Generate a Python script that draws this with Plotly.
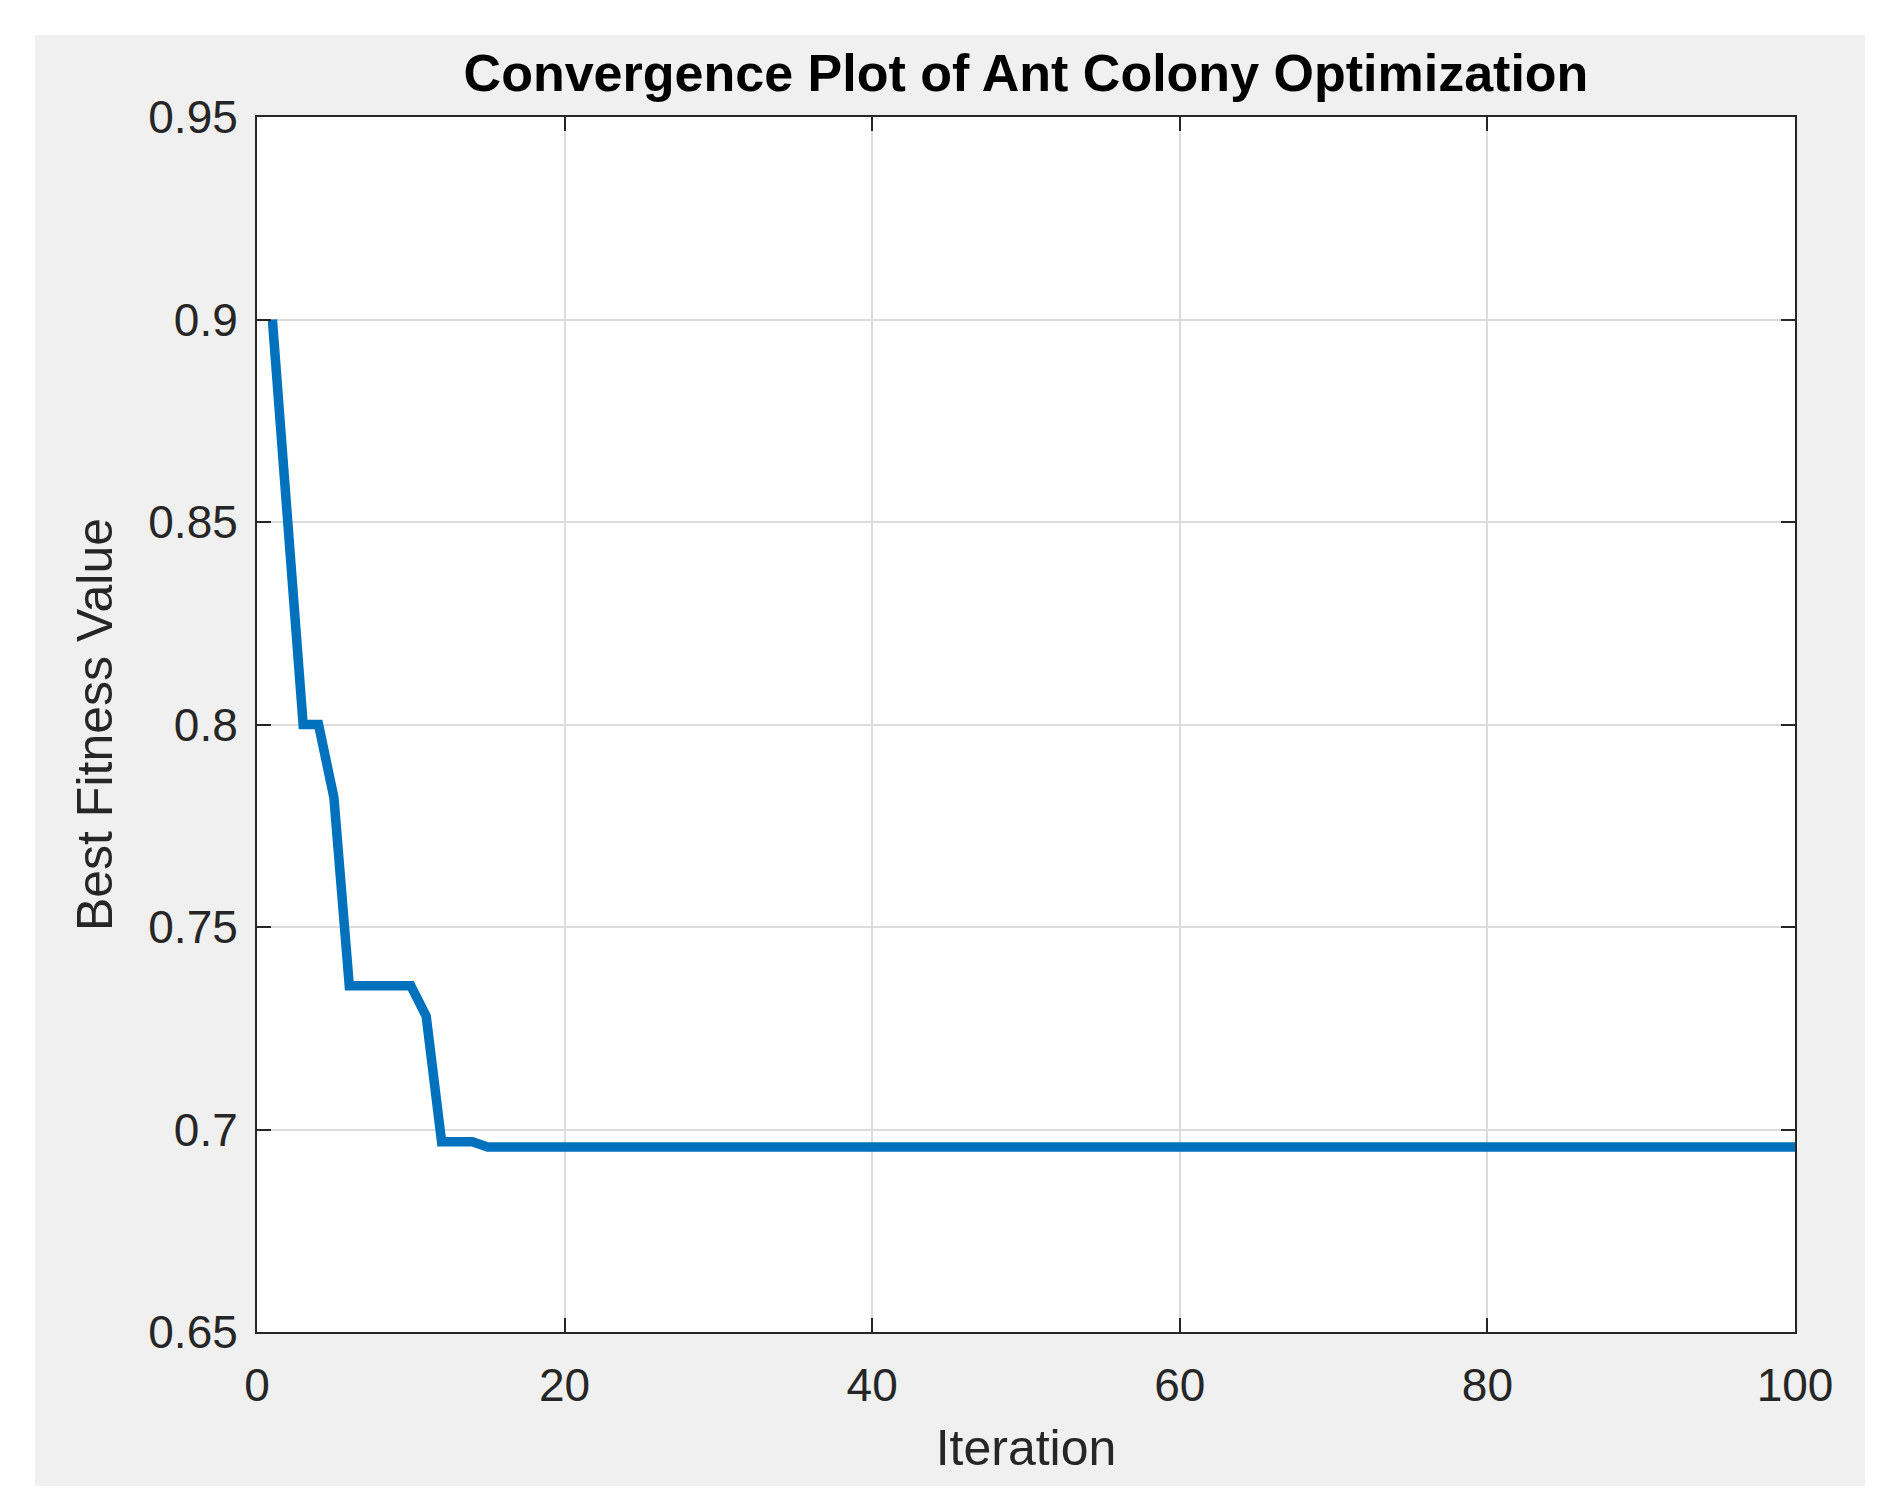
import plotly.graph_objects as go

iterations = list(range(1, 101))
best_fitness = [
    0.9, 0.85, 0.8, 0.8, 0.782, 0.7355, 0.7355, 0.7355, 0.7355, 0.7355,
    0.728, 0.697, 0.697, 0.697, 0.6957, 0.6957, 0.6957, 0.6957, 0.6957, 0.6957,
    0.6957, 0.6957, 0.6957, 0.6957, 0.6957, 0.6957, 0.6957, 0.6957, 0.6957, 0.6957,
    0.6957, 0.6957, 0.6957, 0.6957, 0.6957, 0.6957, 0.6957, 0.6957, 0.6957, 0.6957,
    0.6957, 0.6957, 0.6957, 0.6957, 0.6957, 0.6957, 0.6957, 0.6957, 0.6957, 0.6957,
    0.6957, 0.6957, 0.6957, 0.6957, 0.6957, 0.6957, 0.6957, 0.6957, 0.6957, 0.6957,
    0.6957, 0.6957, 0.6957, 0.6957, 0.6957, 0.6957, 0.6957, 0.6957, 0.6957, 0.6957,
    0.6957, 0.6957, 0.6957, 0.6957, 0.6957, 0.6957, 0.6957, 0.6957, 0.6957, 0.6957,
    0.6957, 0.6957, 0.6957, 0.6957, 0.6957, 0.6957, 0.6957, 0.6957, 0.6957, 0.6957,
    0.6957, 0.6957, 0.6957, 0.6957, 0.6957, 0.6957, 0.6957, 0.6957, 0.6957, 0.6957,
]
x_ticks = [0, 20, 40, 60, 80, 100]
y_ticks = [0.65, 0.7, 0.75, 0.8, 0.85, 0.9, 0.95]
y_tick_labels = ["0.65", "0.7", "0.75", "0.8", "0.85", "0.9", "0.95"]

W, H = 1881, 1505
L, R, T, B = 249, 1787, 109, 1324
pw, ph = R - L, B - T
GL, GR, GT, GB = 27, 1857, 27, 1478  # grey panel edges in pixels


def px_x(p):
    return (p - L) / pw


def px_y(p):
    return (B - p) / ph


fig = go.Figure()
fig.add_trace(go.Scatter(
    x=iterations, y=best_fitness, mode="lines",
    line=dict(color="#0072BD", width=9.5), hoverinfo="skip", showlegend=False,
))

font_family = "Liberation Sans, Arial, sans-serif"
axis_common = dict(
    showline=True, linecolor="#262626", linewidth=2, mirror="ticks",
    ticks="inside", ticklen=14, tickwidth=2, tickcolor="#262626",
    showgrid=True, gridcolor="#dcdcdc", gridwidth=1.5, zeroline=False,
    tickfont=dict(family=font_family, size=46, color="#262626"),
)

white = dict(fillcolor="white", line=dict(width=0), layer="below",
             type="rect", xref="paper", yref="paper")
shapes = [
    dict(x0=px_x(0), x1=px_x(GL), y0=px_y(W * 2), y1=px_y(-W), **white),
    dict(x0=px_x(GR), x1=px_x(W + 10), y0=px_y(W * 2), y1=px_y(-W), **white),
    dict(x0=px_x(0), x1=px_x(W + 10), y0=px_y(GT), y1=px_y(-10), **white),
    dict(x0=px_x(0), x1=px_x(W + 10), y0=px_y(H + 10), y1=px_y(GB), **white),
]

fig.update_layout(
    width=W, height=H,
    margin=dict(l=L, r=W - R, t=T, b=H - B, pad=0),
    paper_bgcolor="#f0f0f0", plot_bgcolor="white",
    title=dict(
        text="<b>Convergence Plot of Ant Colony Optimization</b>",
        font=dict(family=font_family, size=52, color="black"),
        x=0.5, xref="paper", xanchor="center",
        y=1, yref="paper", yanchor="bottom", pad=dict(b=26),
    ),
    xaxis=dict(
        range=[0, 100], tickvals=x_ticks, ticktext=[str(v) for v in x_ticks],
        title=dict(text="Iteration", font=dict(family=font_family, size=50, color="#262626"), standoff=20),
        ticklabelstandoff=12,
        **axis_common,
    ),
    yaxis=dict(
        range=[0.65, 0.95], tickvals=y_ticks, ticktext=y_tick_labels,
        title=dict(text="Best Fitness Value", font=dict(family=font_family, size=50, color="#262626"), standoff=20),
        ticklabelstandoff=8,
        **axis_common,
    ),
    shapes=shapes,
)

fig.write_html("out.html")
